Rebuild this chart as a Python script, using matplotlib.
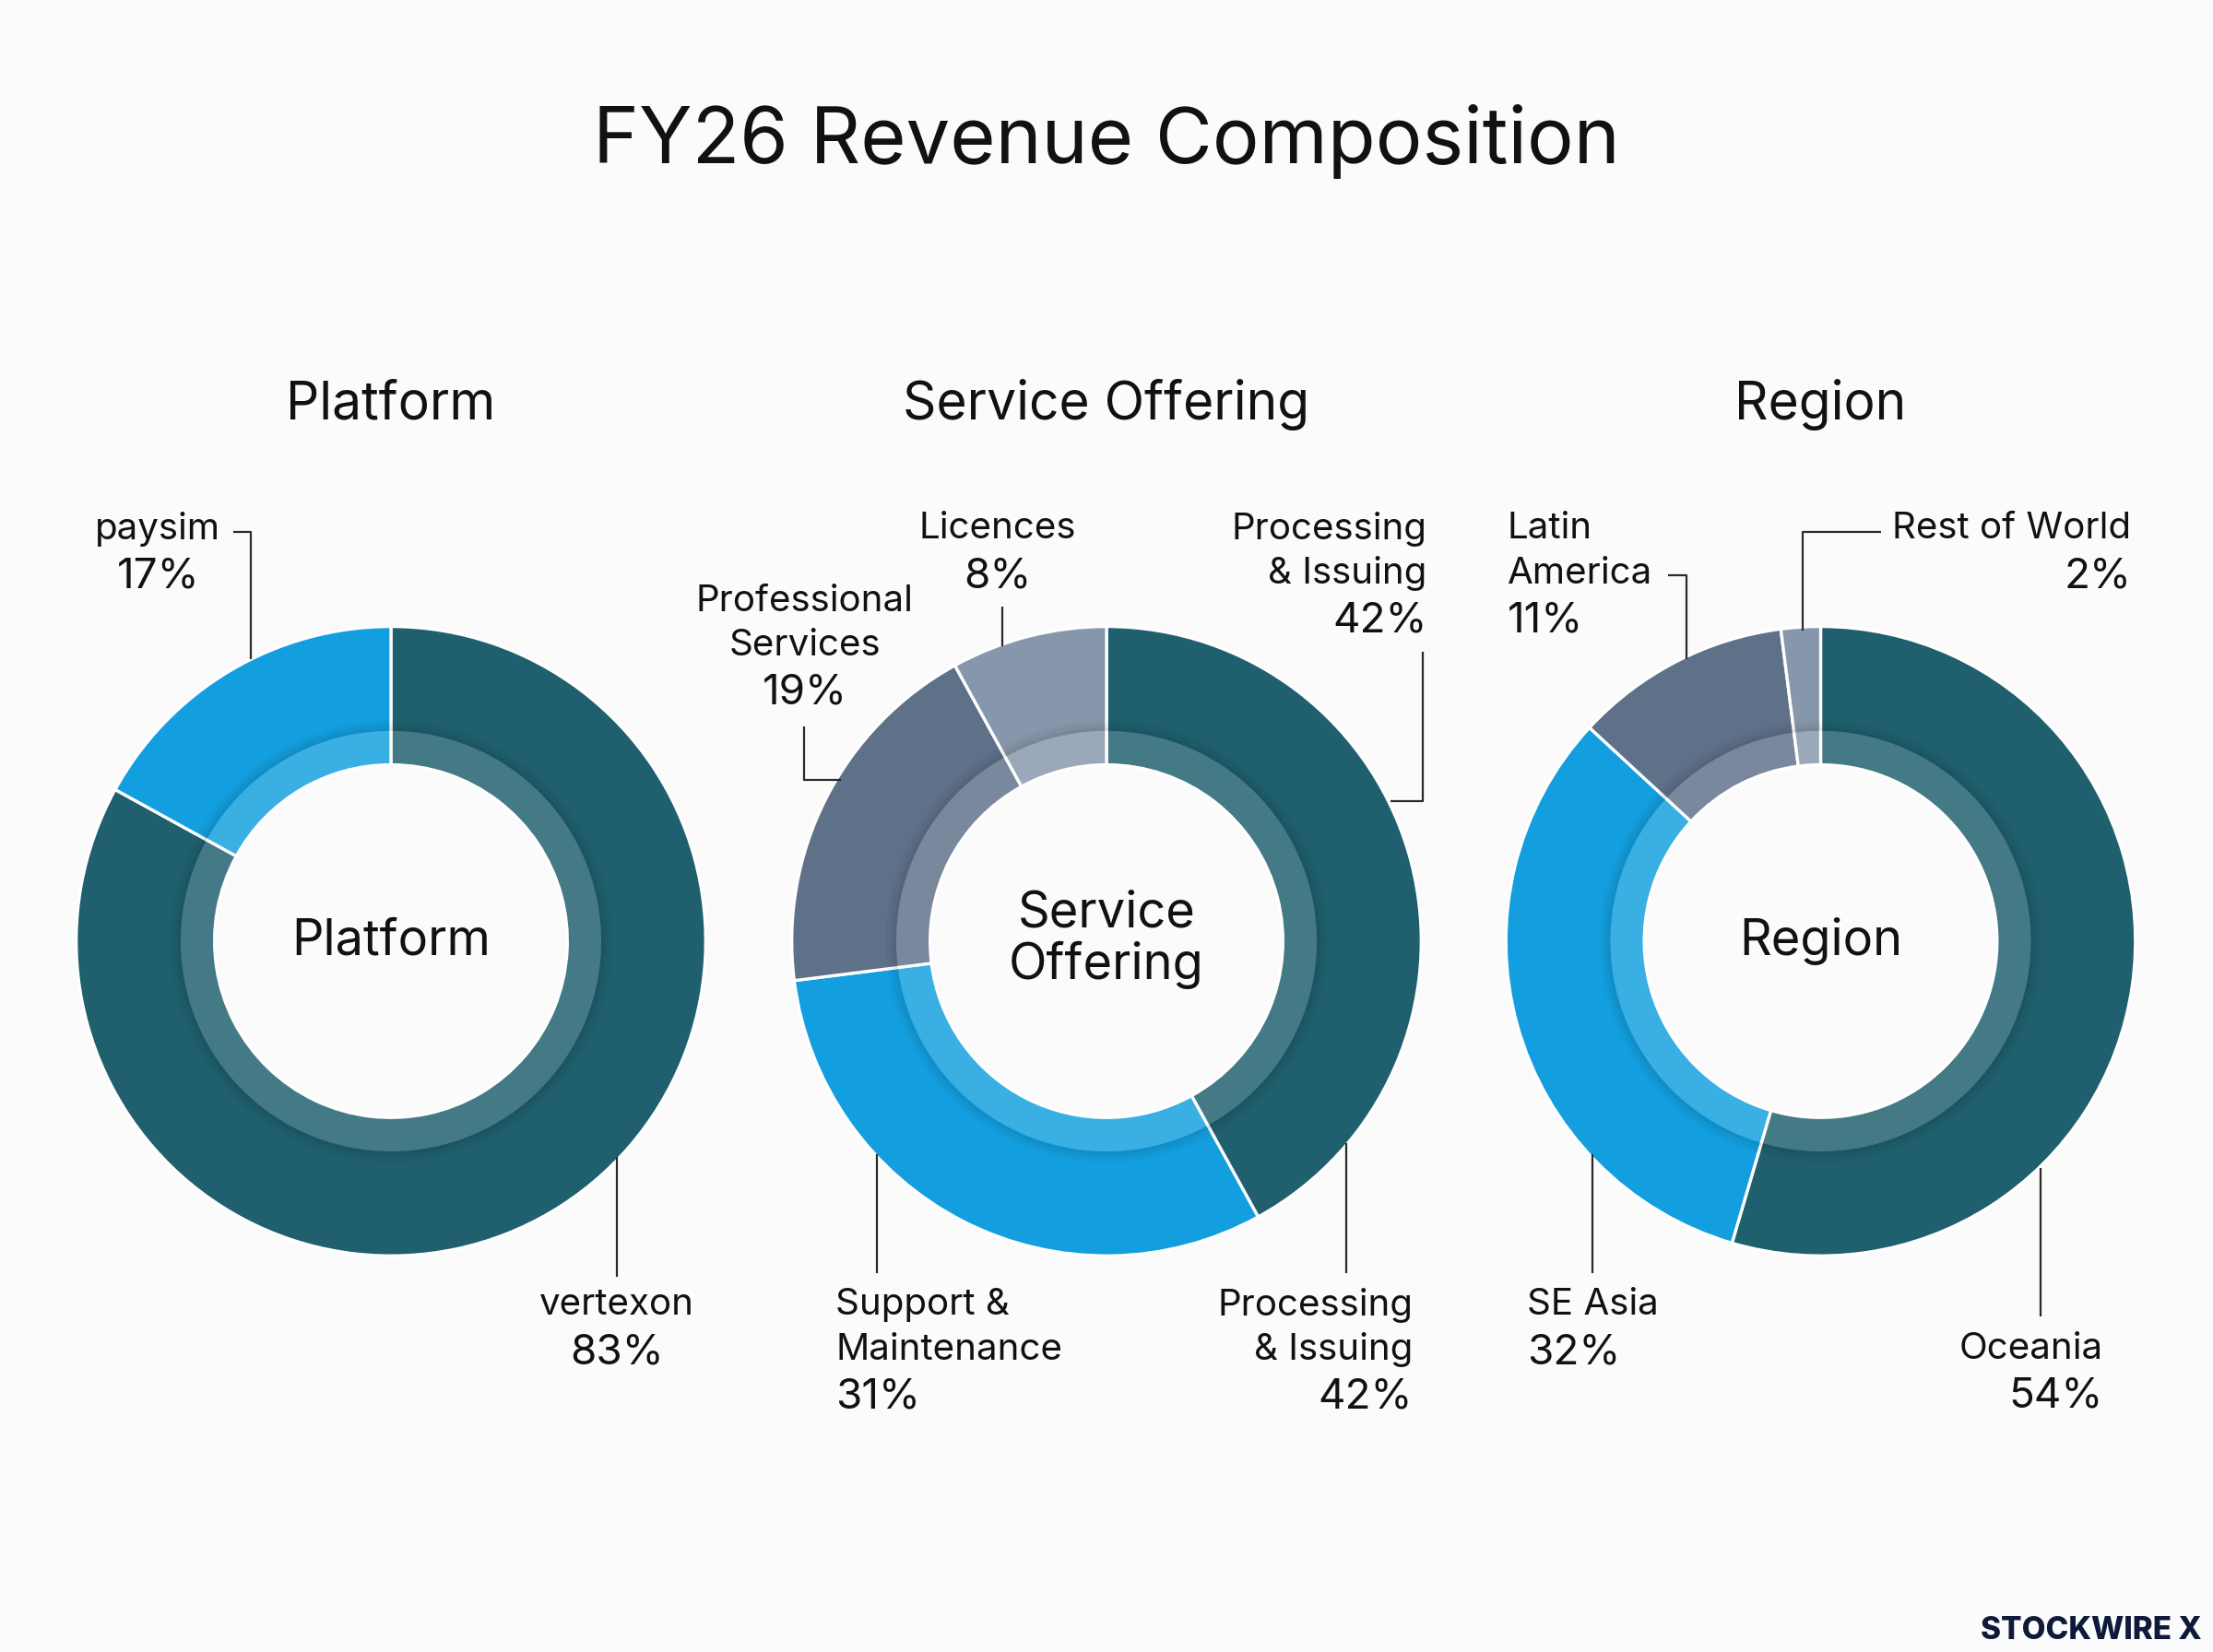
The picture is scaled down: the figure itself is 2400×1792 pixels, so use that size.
import numpy as np
import matplotlib.pyplot as plt
from matplotlib.patches import Wedge

plt.rcParams['font.family'] = ['Inter', 'DejaVu Sans']

# Chart data
platform_labels = ['vertexon', 'paysim']
platform_values = [83, 17]

service_labels = ['Processing\n& Issuing', 'Support &\nMaintenance', 'Professional\nServices', 'Licences']
service_values = [42, 31, 19, 8]

region_labels = ['Oceania', 'SE Asia', 'Latin\nAmerica', 'Rest of World']
region_values = [54, 32, 11, 2]

TEAL = '#1f5f6e'
BLUE = '#139fdf'
SLATE = '#5f7089'
LIGHT = '#8797ab'

platform_colors = [TEAL, BLUE]
service_colors = [TEAL, BLUE, SLATE, LIGHT]
region_colors = [TEAL, BLUE, SLATE, LIGHT]

# layout is in a 1568 x 1170.8 canvas, y measured from the top
W = 1568
H = W * 1792 / 2400


def Y(y):
    return H - y


fig = plt.figure(figsize=(24, 17.92), dpi=100)
fig.patch.set_facecolor('#fbfbfb')
ax = fig.add_axes([0, 0, 1, 1])
ax.set_facecolor('#fbfbfb')


def donut(values, colors, cx, cy):
    ax.pie(values, colors=colors, radius=223, center=(cx, Y(cy)), startangle=90,
           counterclock=False, wedgeprops=dict(width=98, edgecolor='white', linewidth=2.4))
    # soft shadow just outside the inner band
    for k, a in enumerate([0.10, 0.06, 0.03]):
        ax.add_patch(Wedge((cx, Y(cy)), 149 + 2.5 * (k + 1), 0, 360, width=2.5,
                           fc=(0, 0, 0, a), ec='none'))
    # lighter inner band
    ax.add_patch(Wedge((cx, Y(cy)), 149, 0, 360, width=24, fc=(1, 1, 1, 0.17), ec='none'))


centers = [(277, 667), (784, 667), (1290, 667)]
donut(platform_values, platform_colors, *centers[0])
donut(service_values, service_colors, *centers[1])
donut(region_values, region_colors, *centers[2])

# titles
ax.text(784, Y(100), 'FY26 Revenue Composition', ha='center', va='center', fontsize=61, color='#111111')
for (cx, _), t in zip(centers, ['Platform', 'Service Offering', 'Region']):
    ax.text(cx, Y(287), t, ha='center', va='center', fontsize=41, color='#111111')

ax.text(277, Y(667), 'Platform', ha='center', va='center', fontsize=39, color='#111111')
ax.text(784, Y(666), 'Service\nOffering', ha='center', va='center', fontsize=39,
        color='#111111', linespacing=1.12)
ax.text(1290, Y(667), 'Region', ha='center', va='center', fontsize=39, color='#111111')

NAME_FS = 29
PCT_FS = 33
LINE = 31.5


def callout(name, value, x, y0, ha, leader):
    lines = name.split('\n')
    for i, ln in enumerate(lines):
        ax.text(x, Y(y0 + i * LINE), ln, ha=ha, va='center', fontsize=NAME_FS, color='#111111')
    ax.text(x, Y(y0 + len(lines) * LINE + 2), f'{value}%', ha=ha, va='center',
            fontsize=PCT_FS, color='#111111')
    xs, ys = zip(*leader)
    ax.plot(xs, [Y(v) for v in ys], color='#2a2a2a', lw=1.6, solid_capstyle='butt')


# label placement: (x, first-line y, alignment, leader polyline)
platform_layout = [
    (437, 925, 'center', [(437, 820), (437, 905)]),
    (112, 375, 'center', [(165, 377), (178, 377), (178, 467)]),
]
service_layout = [
    (1011, 375, 'right', [(1008, 462), (1008, 568), (985, 568)]),
    (592, 925, 'left', [(621, 818), (621, 902)]),
    (570, 426, 'center', [(570, 515), (570, 553), (596, 553)]),
    (707, 375, 'center', [(710, 430), (710, 458)]),
]
region_layout = [
    (1490, 956, 'right', [(1446, 828), (1446, 933)]),
    (1082, 925, 'left', [(1128, 818), (1128, 902)]),
    (1068, 375, 'left', [(1182, 408), (1195, 408), (1195, 467)]),
    (1510, 375, 'right', [(1333, 377), (1277, 377), (1277, 447)]),
]

for labels, values, layout in [(platform_labels, platform_values, platform_layout),
                               (service_labels, service_values, service_layout),
                               (region_labels, region_values, region_layout)]:
    for name, v, (x, y0, ha, leader) in zip(labels, values, layout):
        callout(name, v, x, y0, ha, leader)

# the reference repeats the largest service slice at the bottom right
callout(service_labels[0], service_values[0], 1001, 925, 'right', [(954, 810), (954, 902)])

ax.text(1560, Y(1156), 'STOCKWIRE X', ha='right', va='center', fontsize=24,
        fontweight='heavy', color='#0f1a3a')

ax.set_xlim(0, W)
ax.set_ylim(0, H)
ax.set_aspect('auto')
ax.axis('off')

fig.savefig('out.png', dpi=100, facecolor=fig.get_facecolor())
